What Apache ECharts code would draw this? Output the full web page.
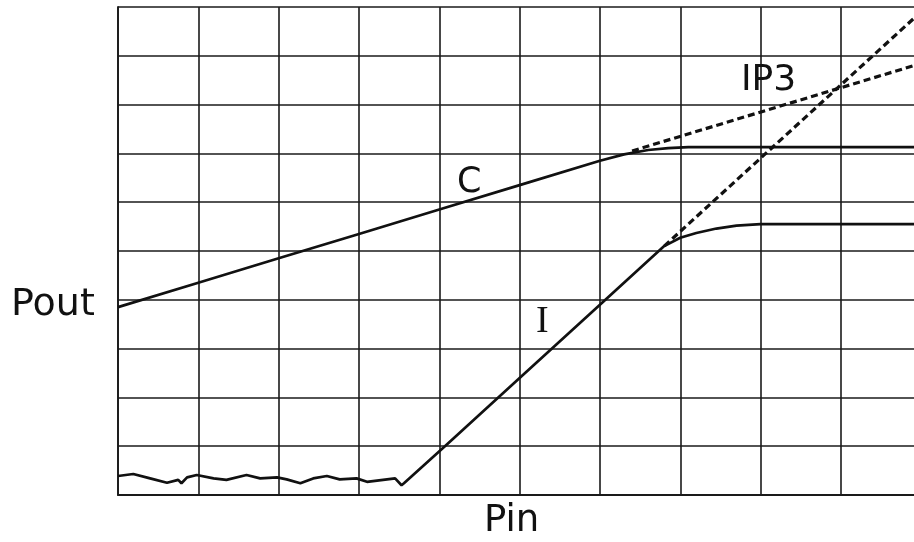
<!DOCTYPE html>
<html>
<head>
<meta charset="utf-8">
<script src="https://cdn.jsdelivr.net/npm/echarts@6/dist/echarts.min.js"></script>
<style>html,body{margin:0;padding:0;background:#fff;}#c{width:914px;height:542px;}</style>
</head>
<body>
<div id="c"></div>
<script>
// Fundamental (carrier) output C: solid measured part
var cSolid = [[0,3.85],[1,4.35],[2,4.85],[3,5.35],[4,5.85],[5,6.35],[6,6.85],[6.3,6.98],[6.6,7.07],[6.85,7.11],[7.1,7.13],[9.91,7.13]];
// C extrapolation (dashed)
var cExtra = [[6.4,7.05],[9.91,8.8]];
// Third-order intermod product I: noise floor then rising, compressing
var iSolid = [[0,0.39],[0.19,0.43],[0.40,0.34],[0.61,0.25],[0.75,0.31],[0.79,0.24],[0.86,0.36],[0.98,0.41],[1.19,0.34],[1.35,0.31],[1.60,0.41],[1.77,0.34],[1.98,0.36],[2.10,0.32],[2.27,0.24],[2.43,0.34],[2.60,0.39],[2.76,0.32],[2.97,0.34],[3.10,0.27],[3.30,0.31],[3.45,0.34],[3.53,0.20],[3.56,0.24],[4.07,1.0],[5,2.4],[6,3.9],[6.8,5.1],[7.0,5.27],[7.2,5.37],[7.45,5.46],[7.7,5.52],[8.0,5.55],[9.91,5.55]];
// I extrapolation (dashed)
var iExtra = [[6.8,5.1],[9.91,9.77]];
// Annotation texts
var labelC = 'C', labelI = 'I', labelIP3 = 'IP3', xName = 'Pin', yName = 'Pout';

var chart = echarts.init(document.getElementById('c'), null, {renderer:'canvas'});
var gridLine = {lineStyle:{color:'#1a1a1a', width:1.6}};
var lineBase = {type:'line', showSymbol:false, symbol:'none', smooth:false, animation:false, z:5};
chart.setOption({
  backgroundColor:'#ffffff',
  animation:false,
  grid:{left:118, top:7, right:0, height:488},
  xAxis:{type:'value', min:0, max:9.91, interval:1,
    axisLine:{show:true, lineStyle:{color:'#1a1a1a', width:1.8}}, axisTick:{show:false}, axisLabel:{show:false},
    splitLine:Object.assign({show:true, showMaxLine:false}, gridLine)},
  yAxis:{type:'value', min:0, max:10, interval:1,
    axisLine:{show:true, lineStyle:{color:'#1a1a1a', width:1.8}}, axisTick:{show:false}, axisLabel:{show:false},
    splitLine:Object.assign({show:true}, gridLine)},
  series:[
    Object.assign({}, lineBase, {name:'C', data:cSolid, lineStyle:{color:'#111', width:2.7}}),
    Object.assign({}, lineBase, {name:'C ext', data:cExtra, lineStyle:{color:'#111', width:3.2, type:[7,4]}}),
    Object.assign({}, lineBase, {name:'I', data:iSolid, lineStyle:{color:'#111', width:2.7}}),
    Object.assign({}, lineBase, {name:'I ext', data:iExtra, lineStyle:{color:'#111', width:3.2, type:[7,4]}})
  ],
  graphic:[
    {type:'text', left:457, top:165, style:{text:labelC, font:'35px "DejaVu Sans"', fill:'#111'}, z:10},
    {type:'text', left:741, top:63, style:{text:labelIP3, font:'36px "DejaVu Sans"', fill:'#111'}, z:10},
    {type:'text', left:536, top:303, style:{text:labelI, font:'38px "Liberation Serif"', fill:'#111'}, z:10},
    {type:'text', left:484, top:503, style:{text:xName, font:'37px "DejaVu Sans"', fill:'#111'}, z:10},
    {type:'text', left:11, top:286, style:{text:yName, font:'38px "DejaVu Sans"', fill:'#111'}, z:10}
  ]
});
</script>
</body>
</html>
